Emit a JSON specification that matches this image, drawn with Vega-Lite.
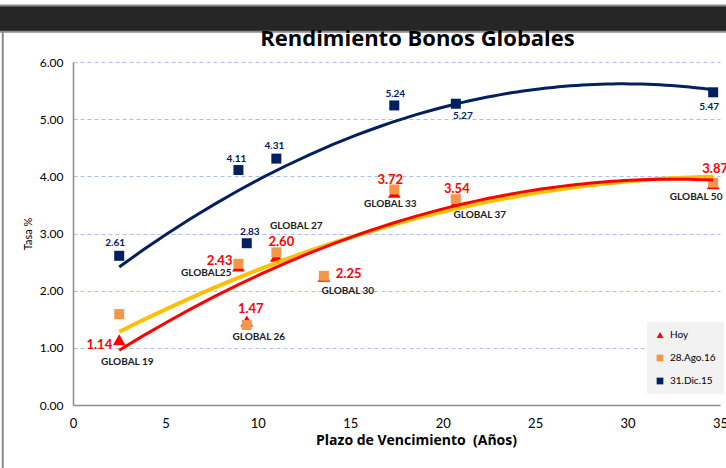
{
  "$schema": "https://vega.github.io/schema/vega-lite/v6.json",
  "width": 647,
  "height": 343,
  "autosize": {"type": "none"},
  "padding": {"left": 73, "top": 62, "right": 6, "bottom": 63},
  "background": "white",
  "title": {"text": "Rendimiento Bonos Globales", "font": "Open Sans", "fontSize": 22, "fontWeight": "bold", "color": "#000000", "anchor": "middle", "frame": "group", "dx": 21, "offset": -47},
  "config": {
    "font": "Lato",
    "view": {"stroke": null},
    "axis": {"domainColor": "#8c8c8c", "domainWidth": 1.5, "ticks": false, "labelFont": "Lato", "labelColor": "#000000", "titleFont": "Lato", "titleColor": "#000000", "labelFlush": false},
    "legend": {"orient": "none", "legendX": 574, "legendY": 260, "fillColor": "#f2f2f2", "padding": 8, "labelFont": "Lato", "labelFontSize": 10, "labelColor": "#000000", "symbolSize": 45, "rowPadding": 13, "labelOffset": 5},
    "style": {
      "redlbl": {"fontSize": 13, "fontWeight": "bold", "baseline": "middle", "font": "Lato"},
      "navylbl": {"fontSize": 10, "fontWeight": "bold", "baseline": "middle", "font": "Lato"},
      "glbl": {"fontSize": 10, "fontWeight": "bold", "baseline": "middle", "font": "Lato"}
    }
  },
  "data": {
    "values": [
      {"bono": "GLOBAL 19", "plazo": 2.5, "serie": "Hoy", "tasa": 1.14},
      {"bono": "GLOBAL25", "plazo": 8.95, "serie": "Hoy", "tasa": 2.43},
      {"bono": "GLOBAL 26", "plazo": 9.4, "serie": "Hoy", "tasa": 1.47},
      {"bono": "GLOBAL 27", "plazo": 11.0, "serie": "Hoy", "tasa": 2.60},
      {"bono": "GLOBAL 30", "plazo": 13.57, "serie": "Hoy", "tasa": 2.25},
      {"bono": "GLOBAL 33", "plazo": 17.38, "serie": "Hoy", "tasa": 3.72},
      {"bono": "GLOBAL 37", "plazo": 20.71, "serie": "Hoy", "tasa": 3.54},
      {"bono": "GLOBAL 50", "plazo": 34.63, "serie": "Hoy", "tasa": 3.87},
      {"bono": "GLOBAL 19", "plazo": 2.5, "serie": "28.Ago.16", "tasa": 1.59},
      {"bono": "GLOBAL25", "plazo": 8.95, "serie": "28.Ago.16", "tasa": 2.47},
      {"bono": "GLOBAL 26", "plazo": 9.4, "serie": "28.Ago.16", "tasa": 1.40},
      {"bono": "GLOBAL 27", "plazo": 11.0, "serie": "28.Ago.16", "tasa": 2.67},
      {"bono": "GLOBAL 30", "plazo": 13.57, "serie": "28.Ago.16", "tasa": 2.26},
      {"bono": "GLOBAL 33", "plazo": 17.38, "serie": "28.Ago.16", "tasa": 3.77},
      {"bono": "GLOBAL 37", "plazo": 20.71, "serie": "28.Ago.16", "tasa": 3.60},
      {"bono": "GLOBAL 50", "plazo": 34.63, "serie": "28.Ago.16", "tasa": 3.89},
      {"bono": "GLOBAL 19", "plazo": 2.5, "serie": "31.Dic.15", "tasa": 2.61},
      {"bono": "GLOBAL25", "plazo": 8.95, "serie": "31.Dic.15", "tasa": 4.11},
      {"bono": "GLOBAL 26", "plazo": 9.4, "serie": "31.Dic.15", "tasa": 2.83},
      {"bono": "GLOBAL 27", "plazo": 11.0, "serie": "31.Dic.15", "tasa": 4.31},
      {"bono": "GLOBAL 33", "plazo": 17.38, "serie": "31.Dic.15", "tasa": 5.24},
      {"bono": "GLOBAL 37", "plazo": 20.71, "serie": "31.Dic.15", "tasa": 5.27},
      {"bono": "GLOBAL 50", "plazo": 34.63, "serie": "31.Dic.15", "tasa": 5.47}
    ]
  },
  "layer": [
    {
      "data": {"values": [{"k": 1}]},
      "mark": {"type": "rect", "color": "#262626", "stroke": "#8c8c8c", "strokeWidth": 2, "clip": false},
      "encoding": {"x": {"datum": -4.2, "type": "quantitative"}, "x2": {"datum": 36}, "y": {"datum": 6.99, "type": "quantitative"}, "y2": {"datum": 6.53}}
    },
    {
      "data": {"values": [{"k": 1}]},
      "mark": {"type": "rule", "color": "#8c8c8c", "strokeWidth": 2, "clip": false},
      "encoding": {"x": {"datum": -3.8, "type": "quantitative"}, "y": {"datum": -1.2, "type": "quantitative"}, "y2": {"datum": 6.53}}
    },
    {
      "encoding": {
        "x": {"field": "plazo", "type": "quantitative", "scale": {"domain": [0, 35], "nice": false, "zero": false},
          "axis": {"title": "Plazo de Vencimiento \u00a0(Años)", "values": [0, 5, 10, 15, 20, 25, 30, 35], "labelFontSize": 13, "labelPadding": 12, "titleFont": "Open Sans", "titleFontSize": 14, "titleFontWeight": "bold", "titlePadding": 3, "grid": false, "titleX": 343}},
        "y": {"field": "tasa", "type": "quantitative", "scale": {"domain": [0, 6], "nice": false},
          "axis": {"title": "Tasa %", "values": [0, 1, 2, 3, 4, 5, 6], "format": ".2f", "labelFontSize": 12, "labelPadding": 10, "titleFontSize": 11, "titleFontWeight": "normal", "titlePadding": 6, "grid": true, "gridDash": [4, 3], "gridColor": "#a9bfe6", "gridWidth": 1}}
      },
      "layer": [
        {
          "transform": [{"filter": "datum.serie == 'Hoy'"}],
          "mark": {"type": "point", "filled": true, "opacity": 1, "size": 160},
          "encoding": {
            "color": {"field": "serie", "type": "nominal", "scale": {"domain": ["Hoy", "28.Ago.16", "31.Dic.15"], "range": ["#ff0000", "#f79646", "#002060"]}, "legend": {"title": null}},
            "shape": {"field": "serie", "type": "nominal", "scale": {"domain": ["Hoy", "28.Ago.16", "31.Dic.15"], "range": ["triangle-up", "square", "square"]}, "legend": {"title": null}}
          }
        },
        {
          "transform": [{"filter": "datum.serie != 'Hoy'"}],
          "mark": {"type": "point", "filled": true, "opacity": 1, "size": 100},
          "encoding": {
            "color": {"field": "serie", "type": "nominal", "scale": {"domain": ["Hoy", "28.Ago.16", "31.Dic.15"], "range": ["#ff0000", "#f79646", "#002060"]}, "legend": {"title": null}},
            "shape": {"field": "serie", "type": "nominal", "scale": {"domain": ["Hoy", "28.Ago.16", "31.Dic.15"], "range": ["triangle-up", "square", "square"]}, "legend": {"title": null}}
          }
        },
        {
          "transform": [{"filter": "datum.serie == '31.Dic.15'"}, {"regression": "tasa", "on": "plazo", "method": "poly", "order": 2}],
          "mark": {"type": "line", "color": "#002060", "strokeWidth": 3}
        },
        {
          "transform": [{"filter": "datum.serie == '28.Ago.16'"}, {"regression": "tasa", "on": "plazo", "method": "poly", "order": 2}],
          "mark": {"type": "line", "color": "#ffc000", "strokeWidth": 4}
        },
        {
          "transform": [{"filter": "datum.serie == 'Hoy'"}, {"regression": "tasa", "on": "plazo", "method": "poly", "order": 2}],
          "mark": {"type": "line", "color": "#ff0000", "strokeWidth": 3}
        },
        {
          "transform": [{"filter": "datum.serie == 'Hoy'"}],
          "encoding": {"text": {"field": "tasa", "type": "quantitative", "format": ".2f"}, "color": {"value": "#ff0000"}},
          "layer": [
            {"transform": [{"filter": "datum.bono == 'GLOBAL 19'"}], "mark": {"type": "text", "style": "redlbl", "align": "right", "dx": -7, "dy": 5}},
            {"transform": [{"filter": "datum.bono == 'GLOBAL25'"}], "mark": {"type": "text", "style": "redlbl", "align": "right", "dx": -6, "dy": -5}},
            {"transform": [{"filter": "datum.bono == 'GLOBAL 26'"}], "mark": {"type": "text", "style": "redlbl", "align": "center", "dx": 4, "dy": -12}},
            {"transform": [{"filter": "datum.bono == 'GLOBAL 27'"}], "mark": {"type": "text", "style": "redlbl", "align": "center", "dx": 5, "dy": -14}},
            {"transform": [{"filter": "datum.bono == 'GLOBAL 30'"}], "mark": {"type": "text", "style": "redlbl", "align": "left", "dx": 12, "dy": -2}},
            {"transform": [{"filter": "datum.bono == 'GLOBAL 33'"}], "mark": {"type": "text", "style": "redlbl", "align": "center", "dx": -4, "dy": -12}},
            {"transform": [{"filter": "datum.bono == 'GLOBAL 37'"}], "mark": {"type": "text", "style": "redlbl", "align": "center", "dx": 1, "dy": -14}},
            {"transform": [{"filter": "datum.bono == 'GLOBAL 50'"}], "mark": {"type": "text", "style": "redlbl", "align": "center", "dx": 2, "dy": -15, "clip": false}}
          ]
        },
        {
          "transform": [{"filter": "datum.serie == '31.Dic.15'"}],
          "encoding": {"text": {"field": "tasa", "type": "quantitative", "format": ".2f"}, "color": {"value": "#002060"}},
          "layer": [
            {"transform": [{"filter": "datum.bono == 'GLOBAL 19'"}], "mark": {"type": "text", "style": "navylbl", "align": "center", "dx": -4, "dy": -13}},
            {"transform": [{"filter": "datum.bono == 'GLOBAL25'"}], "mark": {"type": "text", "style": "navylbl", "align": "center", "dx": -2, "dy": -11}},
            {"transform": [{"filter": "datum.bono == 'GLOBAL 26'"}], "mark": {"type": "text", "style": "navylbl", "align": "center", "dx": 3, "dy": -11}},
            {"transform": [{"filter": "datum.bono == 'GLOBAL 27'"}], "mark": {"type": "text", "style": "navylbl", "align": "center", "dx": -2, "dy": -13}},
            {"transform": [{"filter": "datum.bono == 'GLOBAL 33'"}], "mark": {"type": "text", "style": "navylbl", "align": "center", "dx": 1, "dy": -11}},
            {"transform": [{"filter": "datum.bono == 'GLOBAL 37'"}], "mark": {"type": "text", "style": "navylbl", "align": "center", "dx": 7, "dy": 12}},
            {"transform": [{"filter": "datum.bono == 'GLOBAL 50'"}], "mark": {"type": "text", "style": "navylbl", "align": "center", "dx": -4, "dy": 15}}
          ]
        },
        {
          "transform": [{"filter": "datum.serie == 'Hoy'"}],
          "encoding": {"text": {"field": "bono", "type": "nominal"}, "color": {"value": "#1a1a1a"}},
          "layer": [
            {"transform": [{"filter": "datum.bono == 'GLOBAL 19'"}], "mark": {"type": "text", "style": "glbl", "align": "center", "dx": 8, "dy": 22}},
            {"transform": [{"filter": "datum.bono == 'GLOBAL25'"}], "mark": {"type": "text", "style": "glbl", "align": "right", "dx": -7, "dy": 7}},
            {"transform": [{"filter": "datum.bono == 'GLOBAL 26'"}], "mark": {"type": "text", "style": "glbl", "align": "center", "dx": 12, "dy": 16}},
            {"transform": [{"filter": "datum.bono == 'GLOBAL 27'"}], "mark": {"type": "text", "style": "glbl", "align": "center", "dx": 20, "dy": -30}},
            {"transform": [{"filter": "datum.bono == 'GLOBAL 30'"}], "mark": {"type": "text", "style": "glbl", "align": "center", "dx": 24, "dy": 15}},
            {"transform": [{"filter": "datum.bono == 'GLOBAL 33'"}], "mark": {"type": "text", "style": "glbl", "align": "center", "dx": -4, "dy": 12}},
            {"transform": [{"filter": "datum.bono == 'GLOBAL 37'"}], "mark": {"type": "text", "style": "glbl", "align": "center", "dx": 24, "dy": 12}},
            {"transform": [{"filter": "datum.bono == 'GLOBAL 50'"}], "mark": {"type": "text", "style": "glbl", "align": "center", "dx": -17, "dy": 13}}
          ]
        }
      ]
    }
  ]
}
